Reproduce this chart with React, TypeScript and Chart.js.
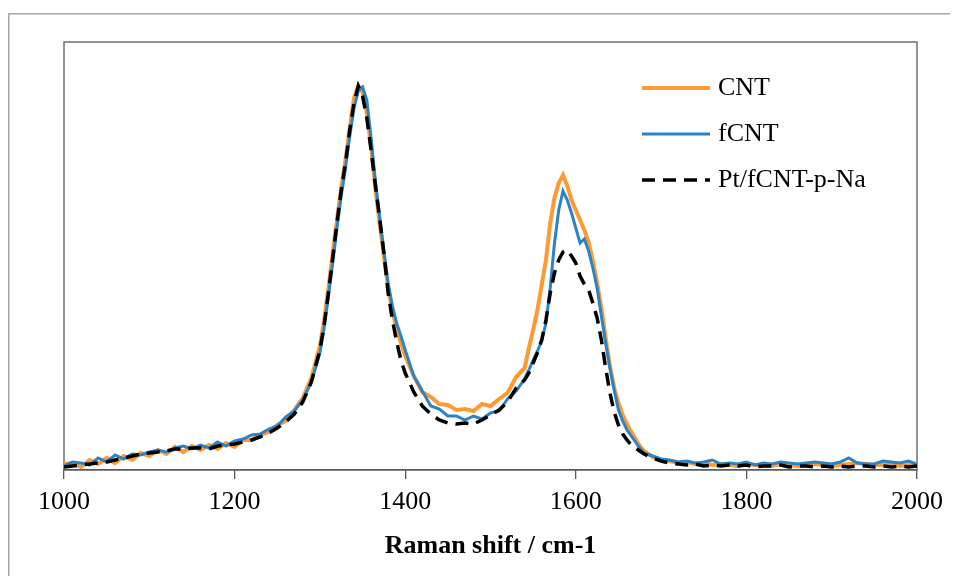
import { useEffect, useRef } from "react";
import { Chart, registerables } from "chart.js";

Chart.register(...registerables);

// Raman shift (cm-1)
const ramanShift = [
  1000, 1010, 1020, 1030, 1040, 1050, 1060, 1070, 1080, 1090, 1100, 1110, 1120, 1130, 1140, 1150, 1160, 1170, 1180, 1190, 1200, 1210, 1220, 1230, 1240, 1250, 1260, 1270, 1280, 1290,
  1300, 1305, 1310, 1315, 1320, 1325, 1330, 1335, 1340, 1345, 1350, 1355, 1360, 1365, 1370, 1375, 1380, 1385, 1390, 1395, 1400,
  1410, 1420, 1430, 1440, 1450, 1460, 1470, 1480, 1490, 1500, 1510, 1520, 1530, 1540,
  1545, 1550, 1555, 1560, 1565, 1570, 1575, 1580, 1585, 1590, 1595, 1600, 1605, 1610, 1615, 1620, 1625, 1630, 1635, 1640, 1645, 1650, 1655, 1660, 1665, 1670, 1675, 1680,
  1690, 1700, 1710, 1720, 1730, 1740, 1750, 1760, 1770, 1780, 1790, 1800, 1810, 1820, 1830, 1840, 1850, 1860, 1870, 1880, 1890, 1900, 1910, 1920, 1930, 1940, 1950, 1960, 1970, 1980, 1990, 2000,
];

// Intensity (a.u.)
const cnt = [
  4, 5, 1, 8, 4, 10, 5, 12, 8, 15, 12, 18, 14, 21, 16, 22, 18, 23, 19, 25, 21, 28, 28, 33, 36, 43, 47, 58, 70, 90,
  122, 148, 180, 215, 248, 280, 308, 340, 370, 382, 376, 355, 322, 280, 245, 212, 180, 158, 138, 125, 112,
  92, 76, 71, 64, 63, 58, 59, 57, 64, 62, 69, 75, 91, 100,
  120, 138, 158, 183, 208, 245, 270, 285, 293, 282, 268, 258, 248, 238, 226, 207, 185, 160, 130, 102, 80, 65, 53, 44, 36, 29, 22, 17,
  11, 8, 7, 5, 6, 4, 5, 3, 4, 3, 2, 4, 3, 3, 2, 4, 3, 2, 3, 4, 3, 2, 3, 4, 5, 4, 3, 3, 4, 2, 3, 2,
];

const fcnt = [
  2, 6, 5, 3, 10, 6, 13, 9, 14, 13, 16, 18, 16, 20, 22, 19, 23, 20, 26, 22, 27, 29, 33, 34, 39, 42, 51, 57, 68, 86,
  115, 140, 172, 205, 240, 272, 300, 332, 360, 377, 381, 368, 330, 287, 252, 217, 185, 162, 145, 132, 118,
  92, 77, 62, 59, 52, 52, 48, 52, 49, 55, 57, 69, 77, 89,
  98, 108, 117, 127, 145, 180, 225, 258, 277, 268, 255, 240, 225, 229, 217, 200, 180, 152, 125, 100, 78, 58, 47, 38, 32, 26, 20, 15,
  12, 9, 8, 6, 7, 5, 6, 8, 4, 5, 4, 6, 3, 5, 4, 6, 5, 4, 5, 6, 5, 4, 6, 10, 5, 4, 4, 7, 6, 5, 7, 4,
];

const ptFcntPNa = [
  1, 2, 3, 4, 5, 6, 8, 10, 12, 14, 15, 16, 17, 19, 19, 20, 20, 19, 22, 23, 24, 26, 28, 31, 35, 40, 46, 54, 66, 86,
  118, 143, 175, 210, 245, 278, 305, 338, 365, 382, 372, 350, 318, 283, 250, 215, 175, 148, 126, 108, 95,
  76, 62, 54, 48, 45, 44, 45, 44, 48, 53, 58, 66, 80, 88,
  95, 105, 115, 128, 148, 175, 195, 208, 216, 218, 212, 205, 192, 184, 178, 165, 150, 128, 100, 75, 56, 43, 34, 28, 23, 20, 17, 14,
  10, 7, 5, 4, 3, 4, 2, 3, 2, 3, 2, 3, 1, 2, 2, 3, 1, 2, 2, 1, 2, 1, 2, 1, 2, 2, 1, 2, 1, 2, 1, 2,
];

const seriesLabels = ["CNT", "fCNT", "Pt/fCNT-p-Na"];
const xTicks = [1000, 1200, 1400, 1600, 1800, 2000];
const xTitle = "Raman shift / cm-1";

const FONT = "'Liberation Serif', 'Times New Roman', serif";
const AXIS_COLOR = "#595959";

export default function App() {
  const ref = useRef<HTMLCanvasElement>(null);

  useEffect(() => {
    const canvas = ref.current;
    if (!canvas) return;

    const framePlugin = {
      id: "frame",
      beforeDraw(chart: any) {
        const ctx = chart.ctx;
        ctx.save();
        ctx.fillStyle = "#ffffff";
        ctx.fillRect(0, 0, chart.width, chart.height);
        ctx.strokeStyle = "#a6a6a6";
        ctx.lineWidth = 1.5;
        ctx.strokeRect(0.75, 5.75, chart.width + 20, chart.height + 20);
        ctx.restore();
      },
      beforeDatasetsDraw(chart: any) {
        const { ctx, chartArea } = chart;
        ctx.save();
        ctx.strokeStyle = AXIS_COLOR;
        ctx.lineWidth = 1.3;
        ctx.strokeRect(chartArea.left, chartArea.top, chartArea.right - chartArea.left, chartArea.bottom - chartArea.top);
        ctx.restore();
      },
      afterDatasetsDraw(chart: any) {
        const ctx = chart.ctx;
        ctx.save();
        chart.data.datasets.forEach((ds: any, i: number) => {
          const y = 80 + i * 46;
          ctx.strokeStyle = ds.borderColor;
          ctx.lineWidth = ds.borderWidth;
          ctx.setLineDash(ds.borderDash || []);
          ctx.lineCap = "butt";
          ctx.beginPath();
          ctx.moveTo(634, y);
          ctx.lineTo(702, y);
          ctx.stroke();
          ctx.setLineDash([]);
          ctx.fillStyle = "#000000";
          ctx.font = `26px ${FONT}`;
          ctx.textAlign = "left";
          ctx.textBaseline = "middle";
          ctx.fillText(ds.label, 710, y);
        });
        ctx.restore();
      },
    };

    const chart = new Chart(canvas, {
      type: "line",
      data: {
        datasets: [
          {
            label: seriesLabels[0],
            data: ramanShift.map((x, i) => ({ x, y: cnt[i] })),
            borderColor: "#FF9933",
            borderWidth: 4,
            pointRadius: 0,
            tension: 0,
            order: 3,
          },
          {
            label: seriesLabels[1],
            data: ramanShift.map((x, i) => ({ x, y: fcnt[i] })),
            borderColor: "#2B83C6",
            borderWidth: 3,
            pointRadius: 0,
            tension: 0,
            order: 2,
          },
          {
            label: seriesLabels[2],
            data: ramanShift.map((x, i) => ({ x, y: ptFcntPNa[i] })),
            borderColor: "#000000",
            borderWidth: 3.5,
            borderDash: [13, 8],
            pointRadius: 0,
            tension: 0,
            order: 1,
          },
        ],
      },
      options: {
        animation: false,
        responsive: false,
        devicePixelRatio: 1,
        layout: { padding: { left: 56, right: 41, top: 34, bottom: 0 } },
        plugins: {
          legend: { display: false },
          tooltip: { enabled: false },
        },
        scales: {
          x: {
            type: "linear",
            min: 1000,
            max: 2000,
            afterBuildTicks: (s: any) => {
              s.ticks = xTicks.map((v) => ({ value: v }));
            },
            afterFit: (s: any) => {
              s.height = 114;
            },
            grid: {
              drawOnChartArea: false,
              drawTicks: true,
              tickLength: 9,
              color: AXIS_COLOR,
              lineWidth: 1.3,
            },
            border: { display: true, color: AXIS_COLOR, width: 1.3 },
            ticks: {
              color: "#000000",
              font: { family: FONT, size: 26 },
              padding: 8,
              maxRotation: 0,
              autoSkip: false,
              callback: (v: any) => String(v),
            },
            title: {
              display: true,
              text: xTitle,
              color: "#000000",
              font: { family: FONT, size: 26, weight: "bold" },
              padding: { top: 4, bottom: 22 },
            },
          },
          y: {
            type: "linear",
            display: false,
            min: -2,
            max: 426,
          },
        },
      },
      plugins: [framePlugin],
    });

    return () => chart.destroy();
  }, []);

  return (
    <div style={{ width: 942, height: 568 }}>
      <canvas ref={ref} width={950} height={576} style={{ display: "block" }} />
    </div>
  );
}
